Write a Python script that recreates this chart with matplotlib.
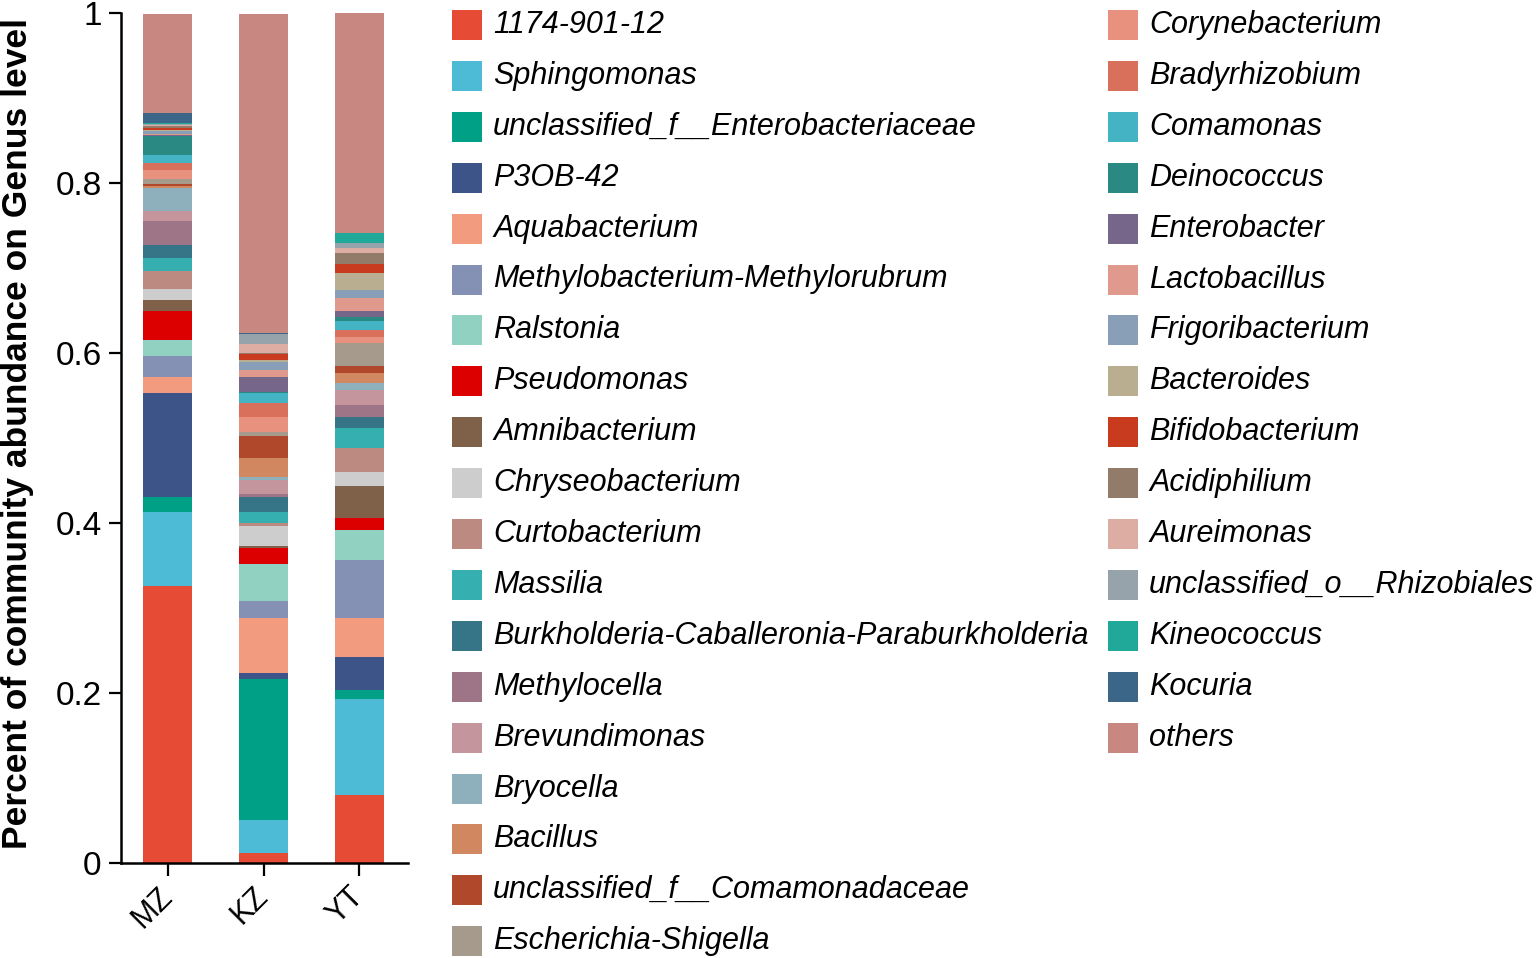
import matplotlib.pyplot as plt
from matplotlib.patches import Rectangle

plt.rcParams['font.family'] = ['Liberation Sans', 'DejaVu Sans']

samples = ['MZ', 'KZ', 'YT']

genera = ['1174-901-12', 'Sphingomonas', 'unclassified_f__Enterobacteriaceae', 'P3OB-42',
          'Aquabacterium', 'Methylobacterium-Methylorubrum', 'Ralstonia', 'Pseudomonas',
          'Amnibacterium', 'Chryseobacterium', 'Curtobacterium', 'Massilia',
          'Burkholderia-Caballeronia-Paraburkholderia', 'Methylocella', 'Brevundimonas',
          'Bryocella', 'Bacillus', 'unclassified_f__Comamonadaceae', 'Escherichia-Shigella',
          'Corynebacterium', 'Bradyrhizobium', 'Comamonas', 'Deinococcus', 'Enterobacter',
          'Lactobacillus', 'Frigoribacterium', 'Bacteroides', 'Bifidobacterium',
          'Acidiphilium', 'Aureimonas', 'unclassified_o__Rhizobiales', 'Kineococcus',
          'Kocuria', 'others']

colors = ['#E64B35', '#4DBBD5', '#00A087', '#3C5488', '#F39B7F', '#8491B4', '#91D1C2',
          '#DC0000', '#7E6148', '#CDCDCD', '#BC8A80', '#35AFAF', '#367588', '#9E7586',
          '#C4959D', '#8EB0BC', '#D1875F', '#B0482B', '#A69A8C', '#E8917E', '#D8705C',
          '#44B4C4', '#2A8983', '#76668A', '#E0998D', '#899FB8', '#BAAE91', '#C83B1F',
          '#937B69', '#DDADA3', '#97A3AA', '#20A898', '#3B6688', '#C98782']

mz = [0.326, 0.087, 0.0176, 0.122, 0.019, 0.025, 0.019, 0.034, 0.013, 0.013, 0.021,
      0.015, 0.015, 0.029, 0.012, 0.026, 0.003, 0.0026, 0.0054, 0.011, 0.0078, 0.0098,
      0.022, 0.001, 0.002, 0.003, 0.001, 0.003, 0.002, 0.001, 0.0013, 0.001, 0.0118,
      0.117]
kz = [0.0118, 0.0388, 0.1659, 0.0071, 0.0647, 0.020, 0.0435, 0.0188, 0.0024, 0.0235,
      0.0035, 0.0129, 0.0176, 0.0035, 0.0165, 0.0035, 0.0224, 0.0259, 0.0047, 0.0176,
      0.0165, 0.0118, 0.001, 0.0176, 0.0082, 0.0094, 0.0024, 0.0071, 0.0012, 0.0106,
      0.0118, 0.0005, 0.0005, 0.376]
yt = [0.080, 0.1129, 0.0106, 0.0388, 0.0459, 0.0682, 0.0353, 0.0141, 0.0376, 0.0165,
      0.0282, 0.0235, 0.0129, 0.0141, 0.0176, 0.0082, 0.0118, 0.0082, 0.0271, 0.0071,
      0.0082, 0.0106, 0.0047, 0.0071, 0.0153, 0.0094, 0.020, 0.0106, 0.0129, 0.0059,
      0.0059, 0.0118, 0.0005, 0.2588]

W, H = 1536, 958
fig = plt.figure(figsize=(W / 100, H / 100), dpi=100)
ax = fig.add_axes([121 / W, 95 / H, 287 / W, 850 / H])

x = range(len(samples))
bottom = [0.0] * len(samples)
for i, name in enumerate(genera):
    vals = [mz[i], kz[i], yt[i]]
    ax.bar(x, vals, 0.51, bottom=bottom, color=colors[i], linewidth=0)
    bottom = [b + v for b, v in zip(bottom, vals)]

ax.set_xlim(-0.49, 2.51)
ax.set_ylim(0, 1)
ax.set_yticks([0, 0.2, 0.4, 0.6, 0.8, 1])
ax.set_yticklabels(['0', '0.2', '0.4', '0.6', '0.8', '1'])
ax.set_xticks(list(x))
ax.set_xticklabels(samples, rotation=45, ha='right', va='center',
                   rotation_mode='anchor')
ax.tick_params(length=9, width=1.6)
ax.tick_params(axis='y', labelsize=24, pad=5)
ax.tick_params(axis='x', labelsize=22, pad=12)
for s in ['top', 'right']:
    ax.spines[s].set_visible(False)
for s in ['left', 'bottom']:
    ax.spines[s].set_linewidth(1.8)
ax.set_ylabel('Percent of community abundance on Genus level', fontsize=25.5,
              fontweight='bold', va='center')
ax.yaxis.set_label_coords(-0.362, 0.505)

# legend drawn as two columns: 19 rows then 15 rows
for i, (name, c) in enumerate(zip(genera, colors)):
    col, row = (0, i) if i < 19 else (1, i - 19)
    x0 = [452, 1108][col]
    yc = 25 + 50.9 * row
    fig.patches.append(Rectangle((x0 / W, 1 - (yc + 15) / H), 30 / W, 30 / H,
                                 transform=fig.transFigure, facecolor=c,
                                 edgecolor='none', figure=fig))
    fig.text((x0 + 41) / W, 1 - yc / H, name, fontsize=22, style='italic',
             va='center', ha='left')

fig.savefig('out.png', dpi=100)
